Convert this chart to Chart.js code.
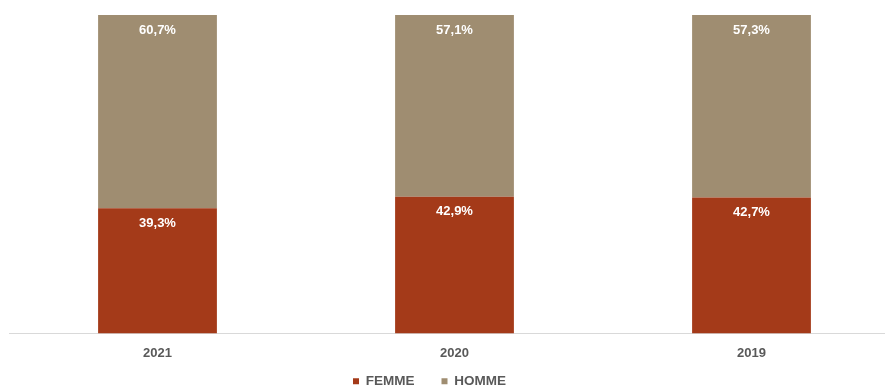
<!DOCTYPE html>
<html>
<head>
<meta charset="utf-8">
<script src="https://cdn.jsdelivr.net/npm/chart.js@4/dist/chart.umd.min.js"></script>
<style>
  html, body { margin: 0; padding: 0; background: #fff; overflow: hidden; }
  #wrap { position: relative; width: 900px; height: 387px; }
</style>
</head>
<body>
<div id="wrap"><canvas id="barChart"></canvas></div>
<script>
"use strict";
var years = ["2021", "2020", "2019"];
var femme = [39.3, 42.9, 42.7];
var homme = [60.7, 57.1, 57.3];

var FONT = "'Liberation Sans', Arial, sans-serif";

// writes the percentage near the top of each segment
var segmentLabels = {
  id: "segmentLabels",
  afterDatasetsDraw: function (chart) {
    var ctx = chart.ctx;
    ctx.save();
    ctx.font = "bold 13px " + FONT;
    ctx.fillStyle = "#ffffff";
    ctx.textAlign = "center";
    ctx.textBaseline = "middle";
    chart.data.datasets.forEach(function (ds, i) {
      chart.getDatasetMeta(i).data.forEach(function (bar, j) {
        var txt = ds.data[j].toFixed(1).replace(".", ",") + "%";
        ctx.fillText(txt, bar.x, bar.y + 15);
      });
    });
    ctx.restore();
  }
};

// the legend keeps wide gaps between items but gets only a thin strip in the
// layout; its box is then stretched back over the space under the axis labels
var legendPlace = {
  id: "legendPlace",
  afterLayout: function (chart) {
    var lg = chart.legend;
    lg.top = chart.chartArea.bottom + 14;
    lg.bottom = chart.height + 20;
    lg.height = lg.bottom - lg.top;
    lg.left -= 25;
    lg.right -= 25;
  }
};

var ctx = document.getElementById("barChart").getContext("2d");
var chart = new Chart(ctx, {
  type: "bar",
  data: {
    labels: years,
    datasets: [
      { label: "FEMME", data: femme, backgroundColor: "#a43a19", borderWidth: 0 },
      { label: "HOMME", data: homme, backgroundColor: "#9f8d71", borderWidth: 0 }
    ]
  },
  options: {
    responsive: true,
    maintainAspectRatio: false,
    animation: false,
    layout: { padding: { top: 15, left: 9, right: 0, bottom: 0 } },
    datasets: { bar: { categoryPercentage: 0.4, barPercentage: 1 } },
    scales: {
      x: {
        stacked: true,
        grid: { display: false, drawTicks: false },
        border: { color: "#d9d9d9", width: 1 },
        ticks: {
          color: "#595959",
          padding: 12,
          font: { family: FONT, size: 13, weight: "bold" }
        }
      },
      y: {
        stacked: true,
        min: 0,
        max: 100,
        display: false
      }
    },
    plugins: {
      tooltip: { enabled: false },
      legend: {
        position: "bottom",
        maxHeight: 14,
        labels: {
          boxWidth: 6,
          boxHeight: 6,
          padding: 27,
          color: "#595959",
          font: { family: FONT, size: 13.5, weight: "bold" }
        }
      }
    }
  },
  plugins: [segmentLabels, legendPlace]
});
</script>
</body>
</html>
